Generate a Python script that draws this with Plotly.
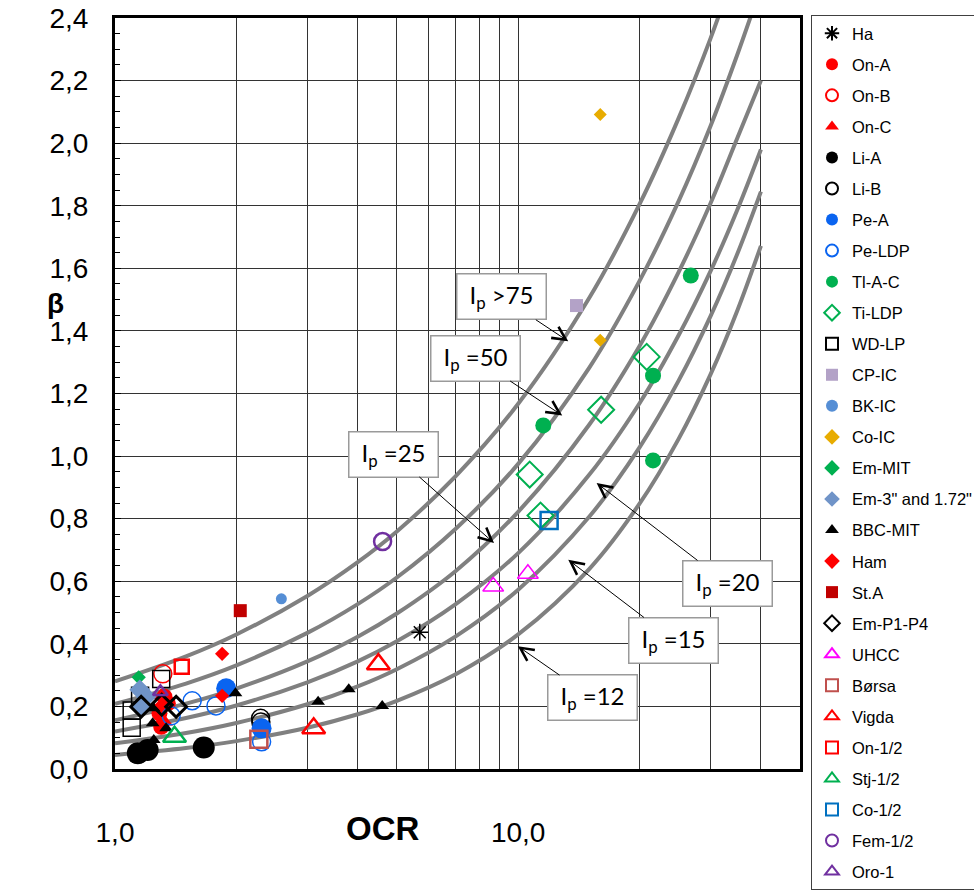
import numpy as np
import plotly.graph_objects as go

# ---------------- data ----------------
ocr_curve = [1, 1.5, 2, 3, 4, 5, 7, 10, 15, 20, 25, 30, 35, 40]
beta_ip75 = [0.280, 0.360, 0.430, 0.553, 0.661, 0.759, 0.936, 1.167, 1.505, 1.805, 2.080, 2.335, 2.580, 2.800]
beta_ip50 = [0.208, 0.273, 0.331, 0.435, 0.527, 0.612, 0.768, 0.975, 1.282, 1.560, 1.815, 2.055, 2.285, 2.500]
beta_ip25 = [0.156, 0.209, 0.257, 0.344, 0.423, 0.497, 0.633, 0.822, 1.100, 1.352, 1.588, 1.808, 2.018, 2.200]
beta_ip20 = [0.120, 0.163, 0.203, 0.277, 0.344, 0.408, 0.527, 0.690, 0.940, 1.169, 1.386, 1.591, 1.789, 1.980]
beta_ip15 = [0.082, 0.115, 0.147, 0.207, 0.264, 0.319, 0.424, 0.573, 0.806, 1.028, 1.241, 1.447, 1.648, 1.845]
beta_ip12 = [0.045, 0.067, 0.089, 0.132, 0.175, 0.218, 0.303, 0.430, 0.639, 0.848, 1.055, 1.261, 1.467, 1.672]

x_tickvals = [1, 2, 3, 4, 5, 6, 7, 8, 9, 10, 20, 30, 40]
x_ticktext = ["1,0", "", "", "", "", "", "", "", "", "10,0", "", "", ""]

ha_x = [5.70]; ha_y = [0.437]
ona_x = [1.326, 1.289, 1.302, 1.352]; ona_y = [0.231, 0.178, 0.135, 0.210]
onb_x = [1.314]; onb_y = [0.304]
onc_x = [1.30, 1.33]; onc_y = [0.235, 0.150]
lia_x = [1.139, 1.205, 1.66]; lia_y = [0.050, 0.061, 0.069]
lib_x = [2.297, 2.300]; lib_y = [0.162, 0.150]
pea_x = [1.887, 2.31]; pea_y = [0.258, 0.130]
peldp_x = [1.378, 1.554, 1.78, 2.31]; peldp_y = [0.170, 0.218, 0.2015, 0.087]
tlac_x = [11.54, 21.6, 21.6, 26.8]; tlac_y = [1.098, 1.257, 0.986, 1.577]
tildp_x = [11.36, 10.68, 16.06, 20.83]; tildp_y = [0.810, 0.941, 1.148, 1.317]
wdlp_x = [1.154, 1.10, 1.10, 1.302]; wdlp_y = [0.234, 0.187, 0.132, 0.288]
cpic_x = [13.95]; cpic_y = [1.481]
bkic_x = [2.586]; bkic_y = [0.544]
coic_x = [15.98, 15.98]; coic_y = [1.370, 2.092]
emmit_x = [1.145]; emmit_y = [0.293]
em3_x = [1.152, 1.195, 1.161]; em3_y = [0.253, 0.231, 0.199]
bbc_x = [1.248, 1.24, 1.339, 1.248, 1.99, 3.19, 3.8, 4.6]
bbc_y = [0.194, 0.146, 0.130, 0.093, 0.242, 0.215, 0.255, 0.2015]
ham_x = [1.306, 1.844, 1.844]; ham_y = [0.205, 0.368, 0.234]
sta_x = [2.045]; sta_y = [0.506]
emp_x = [1.161, 1.306, 1.418]; emp_y = [0.199, 0.205, 0.199]
uhcc_x = [8.67, 10.57]; uhcc_y = [0.583, 0.624]
borsa_x = [2.274]; borsa_y = [0.095]
vigda_x = [4.5, 3.11]; vigda_y = [0.335, 0.130]
on12_x = [1.464]; on12_y = [0.327]
stj_x = [1.405]; stj_y = [0.103]
co12_x = [11.93]; co12_y = [0.794]
fem_x = [4.61]; fem_y = [0.727]
oro_x = [1.296]; oro_y = [0.247]

# ---------------- figure ----------------
fig = go.Figure()

for ys in [beta_ip75, beta_ip50, beta_ip25, beta_ip20, beta_ip15, beta_ip12]:
    fig.add_trace(go.Scatter(x=ocr_curve, y=ys, mode="lines", line=dict(color="#808080", width=4, shape="spline"),
                             showlegend=False, hoverinfo="skip"))

series = [
    ("Ha", ha_x, ha_y, "asterisk-open", "#000000", 14, 1.5),
    ("On-A", ona_x, ona_y, "circle", "#ff0000", 16, 0),
    ("On-B", onb_x, onb_y, "circle-open", "#ff0000", 18, 1.5),
    ("On-C", onc_x, onc_y, "triangle-up", "#ff0000", 14, 0),
    ("Li-A", lia_x, lia_y, "circle", "#000000", 22, 0),
    ("Li-B", lib_x, lib_y, "circle-open", "#000000", 18, 1.5),
    ("Pe-A", pea_x, pea_y, "circle", "#0a64f0", 20, 0),
    ("Pe-LDP", peldp_x, peldp_y, "circle-open", "#0a64f0", 18, 1.5),
    ("Tl-A-C", tlac_x, tlac_y, "circle", "#00b050", 16, 0),
    ("Ti-LDP", tildp_x, tildp_y, "diamond-open", "#00b050", 20, 2),
    ("WD-LP", wdlp_x, wdlp_y, "square-open", "#000000", 17, 1.5),
    ("CP-IC", cpic_x, cpic_y, "square", "#b3a2c7", 13, 0),
    ("BK-IC", bkic_x, bkic_y, "circle", "#558ed5", 11, 0),
    ("Co-IC", coic_x, coic_y, "diamond", "#e8ac00", 10, 0),
    ("Em-MIT", emmit_x, emmit_y, "diamond", "#00b050", 11, 0),
    ("Em-3\" and 1.72\"", em3_x, em3_y, "diamond", "#7094c8", 16, 0),
    ("BBC-MIT", bbc_x, bbc_y, "triangle-up", "#000000", 12, 0),
    ("Ham", ham_x, ham_y, "diamond", "#ff0000", 11, 0),
    ("St.A", sta_x, sta_y, "square", "#c00000", 13, 0),
    ("Em-P1-P4", emp_x, emp_y, "diamond-open", "#000000", 16, 3),
    ("UHCC", uhcc_x, uhcc_y, "triangle-up-open", "#ff00ff", 18, 1.5),
    ("Børsa", borsa_x, borsa_y, "square-open", "#c0504d", 17, 2.5),
    ("Vigda", vigda_x, vigda_y, "triangle-up-open", "#ff0000", 20, 2.5),
    ("On-1/2", on12_x, on12_y, "square-open", "#ff0000", 14, 2.5),
    ("Stj-1/2", stj_x, stj_y, "triangle-up-open", "#00b050", 20, 2.5),
    ("Co-1/2", co12_x, co12_y, "square-open", "#0070c0", 17, 2.5),
    ("Fem-1/2", fem_x, fem_y, "circle-open", "#7030a0", 17, 2.5),
    ("Oro-1", oro_x, oro_y, "triangle-up-open", "#7030a0", 13, 2.5),
]

for i, (name, xs, ys, sym, col, size, lw) in enumerate(series):
    mk = dict(symbol=sym, color=col, size=size)
    if lw > 0:
        mk["line"] = dict(color=col, width=lw)
    fig.add_trace(go.Scatter(x=xs, y=ys, mode="markers", name=name, marker=mk,
                             legendgroup="g%d" % i))

# plot area geometry in pixels
L, R, T, B = 115, 800, 18, 769
W, H = R - L, B - T

def px(xp):
    return (xp - L) / W

def py(yp):
    return (B - yp) / H

ann = []
# Ip labels: (text, tip OCR, tip beta, box center px x, box center px y)
ip_labels = [
    ("I<sub>p</sub> >75", 13.31, 1.367, 501.5, 297.0),
    ("I<sub>p</sub> =50", 12.86, 1.130, 475.7, 358.3),
    ("I<sub>p</sub> =25", 8.71, 0.722, 393.7, 454.2),
    ("I<sub>p</sub> =20", 15.65, 0.914, 727.2, 583.2),
    ("I<sub>p</sub> =15", 13.31, 0.6686, 673.8, 640.2),
    ("I<sub>p</sub> =12", 9.98, 0.3926, 592.2, 697.8),
]
for text, tx, ty, bx, by in ip_labels:
    tip_x = L + np.log10(tx) * W / np.log10(50)
    tip_y = B - ty * H / 2.4
    ann.append(dict(x=np.log10(tx), y=ty, xref="x", yref="y", text=text, showarrow=True,
                    ax=bx - tip_x, ay=by - tip_y, arrowhead=5, arrowsize=2.6, arrowwidth=1,
                    arrowcolor="#000000", bgcolor="#ffffff", bordercolor="#9a9a9a", borderwidth=1.5,
                    width=86, height=42, font=dict(family="Lato, Carlito, sans-serif", size=24, color="#000")))

ann.append(dict(x=px(45), y=py(304), xref="paper", yref="paper", text="<b>β</b>", showarrow=False,
                font=dict(family="Liberation Sans, Arial", size=28, color="#000")))
ann.append(dict(x=px(383), y=py(849), xref="paper", yref="paper", text="<b>OCR</b>", showarrow=False,
                font=dict(family="Liberation Sans Narrow, Liberation Sans, Arial", size=33, color="#000")))

fig.update_layout(
    width=974, height=890,
    margin=dict(l=L, r=974 - R, t=T, b=890 - B, autoexpand=False),
    paper_bgcolor="white", plot_bgcolor="white",
    separators=", ",
    annotations=ann,
    showlegend=True,
    legend=dict(x=px(811), y=py(15), xanchor="left", yanchor="top",
                bgcolor="white", bordercolor="#404040", borderwidth=1,
                font=dict(family="Liberation Sans, Arial", size=16.5, color="#000"),
                itemsizing="constant", traceorder="grouped", tracegroupgap=6.6,
                itemwidth=30, maxheight=1.0),
    xaxis=dict(type="log", range=[0, np.log10(50)], tickvals=x_tickvals, ticktext=x_ticktext,
               showgrid=True, gridcolor="#333333", gridwidth=1,
               showline=True, linecolor="#000", linewidth=3, mirror=True,
               ticks="", zeroline=False, ticklabelstandoff=36,
               tickfont=dict(family="Liberation Sans Narrow, Liberation Sans, Arial", size=28, color="#000")),
    yaxis=dict(range=[0, 2.4], dtick=0.2, tick0=0, tickformat=".1f",
               showgrid=True, gridcolor="#333333", gridwidth=1,
               showline=True, linecolor="#000", linewidth=3, mirror=True,
               ticks="inside", ticklen=6, tickcolor="#000", zeroline=False,
               minor=dict(dtick=0.05, ticks="inside", ticklen=5, tickcolor="#000", showgrid=False),
               ticklabelstandoff=18,
               tickfont=dict(family="Liberation Sans, Arial", size=28, color="#000")),
)

fig.write_html("out.html", config={"displayModeBar": False},
               post_script="document.body.style.margin='0';")
